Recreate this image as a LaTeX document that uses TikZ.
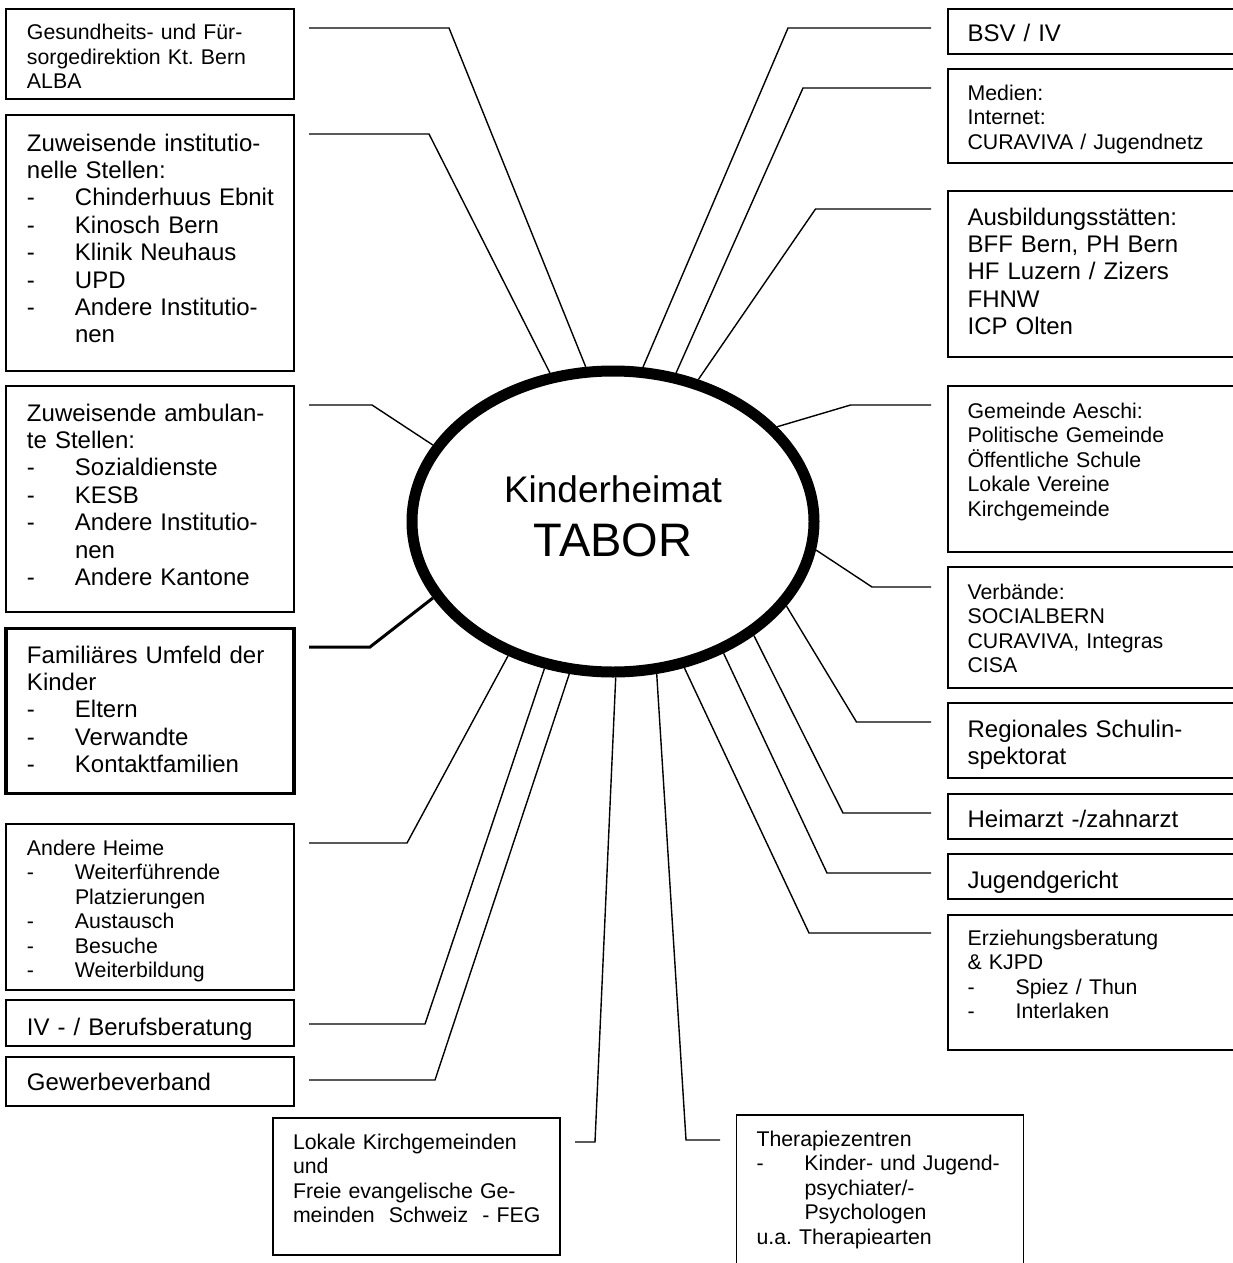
\documentclass[tikz,border=0pt]{standalone}
\usepackage{fontspec}
\setmainfont{Liberation Sans}
\usetikzlibrary{positioning, shapes.geometric}
\frenchspacing

\newcommand{\dashitem}[1]{\mbox{\makebox[48pt][l]{-}#1}}
\newcommand{\wrapitem}[1]{\mbox{\hspace*{48pt}#1}}

\begin{document}
\begin{tikzpicture}[
    x=1pt, y=-1pt,
    box/.style={
        draw, rectangle, line width=1.8pt, anchor=north west, align=left,
        inner xsep=21pt, inner ysep=0pt, outer sep=0pt, text width=246pt
    },
    smallbox/.style={box, font=\fontsize{21.3}{24.5}\selectfont},
    largebox/.style={box, font=\fontsize{24}{27.4}\selectfont},
    rightbox/.style={text width=260pt, inner xsep=20pt},
    home/.style={
        draw, ellipse, line width=11pt, inner sep=0pt, align=center,
        minimum width=402pt, minimum height=301pt,
        font=\fontsize{37}{54}\selectfont
    },
    line/.style={draw, line width=1.4pt}
]
    \useasboundingbox (0,0) rectangle (1233,1263);

    \node[home, text depth=10pt] (Home) at (613,521.5) {Kinderheimat\\{\fontsize{47}{54}\selectfont TABOR}};

    \node[smallbox, text height=31pt, text depth=59pt] (Gfd) at (6,9)
        {Gesundheits- und Für-\\sorgedirektion Kt. Bern\\ALBA};
    \node[largebox, text height=36pt, text depth=220pt, below=16pt of Gfd] (Zis)
        {Zuweisende institutio-\\nelle Stellen:\\ \dashitem{Chinderhuus Ebnit}\\ \dashitem{Kinosch Bern}\\
         \dashitem{Klinik Neuhaus}\\ \dashitem{UPD}\\ \dashitem{Andere Institutio-}\\ \wrapitem{nen}};
    \node[largebox, text height=35pt, text depth=191pt, below=15pt of Zis] (Zas)
        {Zuweisende ambulan-\\te Stellen:\\ \dashitem{Sozialdienste}\\ \dashitem{KESB}\\
         \dashitem{Andere Institutio-}\\ \wrapitem{nen}\\ \dashitem{Andere Kantone}};
    \node[largebox, line width=3.5pt, text height=34.5pt, text depth=130.5pt, below=16.5pt of Zas] (Family)
        {Familiäres Umfeld der\\Kinder\\ \dashitem{Eltern}\\ \dashitem{Verwandte}\\ \dashitem{Kontaktfamilien}};
    \node[smallbox, text height=31pt, text depth=135pt, below=30.5pt of Family] (Heime)
        {Andere Heime\\ \dashitem{Weiterführende}\\ \wrapitem{Platzierungen}\\ \dashitem{Austausch}\\
         \dashitem{Besuche}\\ \dashitem{Weiterbildung}};
    \node[largebox, text height=35pt, text depth=11pt, below=10pt of Heime] (Ivb) {IV - / Berufsberatung};
    \node[largebox, text height=33pt, text depth=16pt, below=11pt of Ivb] (Gewerbe) {Gewerbeverband};
    \node[smallbox, inner xsep=20pt, text width=247pt, text height=31pt, text depth=106pt] (Kirche) at (273,1118)
        {Lokale Kirchgemeinden\\und\\Freie evangelische Ge-\\\mbox{meinden\ \ Schweiz\ \ - FEG}};

    \node[largebox, rightbox, text height=33pt, text depth=12pt] (Bsv) at (947.6,9) {BSV / IV};
    \node[smallbox, rightbox, text height=31pt, text depth=63pt, below=15pt of Bsv] (Medien)
        {Medien:\\Internet:\\CURAVIVA / Jugendnetz};
    \node[largebox, rightbox, text height=34pt, text depth=132pt, below=28pt of Medien] (Ausbildung)
        {Ausbildungsstätten:\\BFF Bern, PH Bern\\HF Luzern / Zizers\\FHNW\\ICP Olten};
    \node[smallbox, rightbox, text height=32pt, text depth=134pt, below=29pt of Ausbildung] (Gemeinde)
        {Gemeinde Aeschi:\\Politische Gemeinde\\Öffentliche Schule\\Lokale Vereine\\Kirchgemeinde};
    \node[smallbox, rightbox, text height=32pt, text depth=89pt, below=15pt of Gemeinde] (Verbaende)
        {Verbände:\\SOCIALBERN\\CURAVIVA, Integras\\CISA};
    \node[largebox, rightbox, text height=34pt, text depth=41pt, below=15pt of Verbaende] (Inspektorat)
        {Regionales Schulin-\\spektorat};
    \node[largebox, rightbox, text height=33pt, text depth=12pt, below=16pt of Inspektorat] (Arzt) {Heimarzt -/zahnarzt};
    \node[largebox, rightbox, text height=34pt, text depth=11pt, below=15pt of Arzt] (Gericht) {Jugendgericht};
    \node[smallbox, rightbox, text height=30pt, text depth=105pt, below=16pt of Gericht] (Beratung)
        {Erziehungsberatung\\\& KJPD\\ \dashitem{Spiez / Thun}\\ \dashitem{Interlaken}};
    \node[smallbox, inner xsep=20pt, text width=247pt, text height=31pt, text depth=129pt] (Therapie) at (736.5,1115)
        {Therapiezentren\\ \dashitem{Kinder- und Jugend-}\\ \wrapitem{psychiater/-}\\ \wrapitem{Psychologen}\\u.a. Therapiearten};

    \draw[line] (309,28) coordinate (GfdTip) -- (449,28) -- (Home.100);
    \draw[line] (309,134) coordinate (ZisTip) -- (429,134) -- (Home.113);
    \draw[line] (309,405) coordinate (ZasTip) -- (372,405) -- (Home.157);
    \draw[line, line width=3pt] (309,647) coordinate (FamilyTip) -- (370,647) -- (Home.203);
    \draw[line] (309,843) coordinate (HeimeTip) -- (407,843) -- (Home.232);
    \draw[line] (309,1024) coordinate (IvbTip) -- (425,1024) -- (Home.245);
    \draw[line] (309,1080) coordinate (GewerbeTip) -- (435,1080) -- (Home.254);
    \draw[line] (575,1142) coordinate (KircheTip) -- (595,1142) -- (Home.271);

    \draw[line] (931,28) coordinate (BsvTip) -- (788,28) -- (Home.79);
    \draw[line] (931,88) coordinate (MedienTip) -- (803,88) -- (Home.67);
    \draw[line] (931,209) coordinate (AusbildungTip) -- (815.5,209) -- (Home.59);
    \draw[line] (931,405) coordinate (GemeindeTip) -- (850.6,405) -- (Home.30);
    \draw[line] (931,587) coordinate (VerbaendeTip) -- (872,587) -- (Home.352);
    \draw[line] (931,722) coordinate (InspektoratTip) -- (856.5,722) -- (Home.334);
    \draw[line] (931,813) coordinate (ArztTip) -- (843,813) -- (Home.321);
    \draw[line] (931,873) coordinate (GerichtTip) -- (827,873) -- (Home.310);
    \draw[line] (931,933) coordinate (BeratungTip) -- (809,933) -- (Home.296);
    \draw[line] (720,1140) coordinate (TherapieTip) -- (686,1140) -- (Home.286);
\end{tikzpicture}
\end{document}
